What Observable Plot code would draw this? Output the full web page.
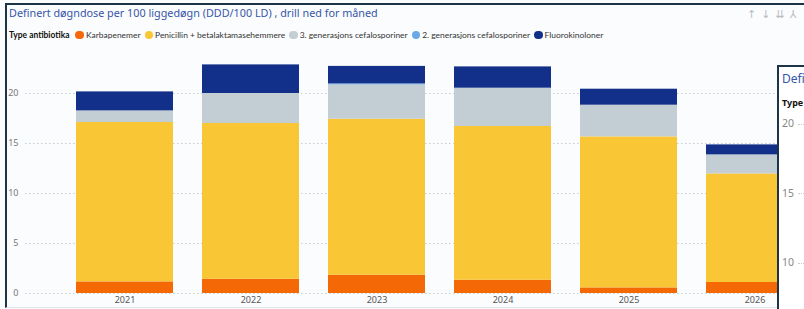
<!DOCTYPE html>
<html>
<head>
<meta charset="utf-8">
<script src="https://cdn.jsdelivr.net/npm/d3@7"></script>
<script src="https://cdn.jsdelivr.net/npm/@observablehq/plot@0.6"></script>
<style>
  html, body { margin: 0; padding: 0; background: #fff; }
  #wrap { position: relative; width: 804px; height: 309px; overflow: hidden; background: #fbfcfd; font-family: "Noto Sans", "Open Sans", sans-serif; }
  #frame { position: absolute; left: 5px; top: 3px; width: 820px; height: 302px; border-left: 2px solid #1d3446; border-top: 2px solid #1d3446; border-bottom: 1px solid #dfe3e8; pointer-events: none; }
  #title { position: absolute; left: 9px; top: 5px; font-size: 12px; color: #3656a8; white-space: nowrap; }
  #legend { position: absolute; left: 9px; top: 30px; font-size: 9.5px; color: #333; white-space: nowrap; display: flex; align-items: center; font-family: Lato, "Noto Sans", sans-serif; }
  #legend b { color: #111; margin-right: 6px; font-weight: 700; }
  #legend .it { display: inline-flex; align-items: center; margin-right: 4px; }
  #legend .dot { width: 8.5px; height: 8.5px; border-radius: 50%; display: inline-block; margin-right: 2px; }
  #icons { position: absolute; left: 747px; top: 8px; font-size: 11px; color: #b8bcc2; letter-spacing: 5px; font-family: "DejaVu Sans", sans-serif; white-space: nowrap; }
  #chart { position: absolute; left: 0; top: 46px; }
  #over { position: absolute; left: 777px; top: 65px; width: 60px; height: 260px; background: #fff; border-left: 2px solid #1d3446; border-top: 2px solid #1d3446; }
  #over .t { position: absolute; left: 3px; top: 3px; font-size: 12px; color: #3656a8; white-space: nowrap; }
  #over .ty { position: absolute; left: 3px; top: 29px; font-size: 9px; font-weight: 700; color: #111; }
  #over .yl { position: absolute; left: 3px; font-size: 10.5px; color: #888; white-space: nowrap; }
  #over .yl span { display: inline-block; width: 30px; border-top: 1px dotted #ccc; vertical-align: middle; margin-left: 4px; }
</style>
</head>
<body>
<div id="wrap">
  <div id="frame"></div>
  <div id="title"></div>
  <div id="icons">↑↓⇊⅄</div>
  <div id="legend"></div>
  <div id="chart"></div>
  <div id="over"></div>
</div>
<script>
const titleText = "Definert døgndose per 100 liggedøgn (DDD/100 LD) , drill ned for måned";
const legendTitle = "Type antibiotika";
const years = ["2021", "2022", "2023", "2024", "2025", "2026"];
const types = ["Karbapenemer", "Penicillin + betalaktamasehemmere", "3. generasjons cefalosporiner", "2. generasjons cefalosporiner", "Fluorokinoloner"];
const colors = ["#f46806", "#f9c735", "#c2cdd4", "#6aa8e8", "#12308a"];
const karbapenemer = [1.16, 1.43, 1.83, 1.33, 0.56, 1.10];
const penicillin   = [15.94, 15.57, 15.60, 15.37, 15.10, 10.86];
const gen3         = [1.16, 3.00, 3.43, 3.83, 3.17, 1.90];
const gen2         = [0, 0, 0.10, 0, 0, 0];
const fluoro       = [1.90, 2.86, 1.75, 2.13, 1.60, 1.00];
const yTicks = [0, 5, 10, 15, 20];
const overTitle = "Defi";
const overType = "Type";
const overTicks = ["20", "15", "10"];

const series = [karbapenemer, penicillin, gen3, gen2, fluoro];
const data = [];
years.forEach((y, i) => types.forEach((t, j) => data.push({year: y, type: t, value: series[j][i]})));

const ttl = document.getElementById("title");
ttl.textContent = titleText;
const lg = document.getElementById("legend");
const b = document.createElement("b"); b.textContent = legendTitle; lg.appendChild(b);
types.forEach((t, i) => {
  const s = document.createElement("span"); s.className = "it";
  const d = document.createElement("span"); d.className = "dot"; d.style.background = colors[i];
  s.appendChild(d); s.appendChild(document.createTextNode(t)); lg.appendChild(s);
});
// fit text widths to the reference layout
function fit(el, target) {
  const w = el.getBoundingClientRect().width;
  const fs = parseFloat(getComputedStyle(el).fontSize);
  el.style.fontSize = (fs * target / w) + "px";
}
fit(ttl, 369);
fit(lg, 590);

const plot = Plot.plot({
  width: 804,
  height: 263,
  marginLeft: 25,
  marginRight: 0,
  marginTop: 17,
  marginBottom: 16,
  style: {background: "transparent", fontFamily: "'Noto Sans', sans-serif", overflow: "visible"},
  x: {type: "band", domain: years, range: [47, 832], padding: 0.23, label: null},
  y: {domain: [0, 23], label: null},
  color: {domain: types, range: colors},
  marks: [
    Plot.ruleY(yTicks, {stroke: "#c8ccd0", strokeDasharray: "1.5,2.5", strokeWidth: 1}),
    Plot.barY(data, {x: "year", y: "value", fill: "type", order: types}),
    Plot.axisY(yTicks, {tickSize: 0, tickPadding: 7, fontSize: 9, fill: "#777", label: null}),
    Plot.axisX({tickSize: 0, tickPadding: 3, fontSize: 9, fill: "#555", label: null})
  ]
});
document.getElementById("chart").appendChild(plot);

const ov = document.getElementById("over");
const ot = document.createElement("div"); ot.className = "t"; ot.textContent = overTitle; ov.appendChild(ot);
const oy = document.createElement("div"); oy.className = "ty"; oy.textContent = overType; ov.appendChild(oy);
overTicks.forEach((t, i) => {
  const d = document.createElement("div"); d.className = "yl";
  d.style.top = (49 + i * 69.5) + "px";
  d.appendChild(document.createTextNode(t));
  d.appendChild(document.createElement("span"));
  ov.appendChild(d);
});
</script>
</body>
</html>
